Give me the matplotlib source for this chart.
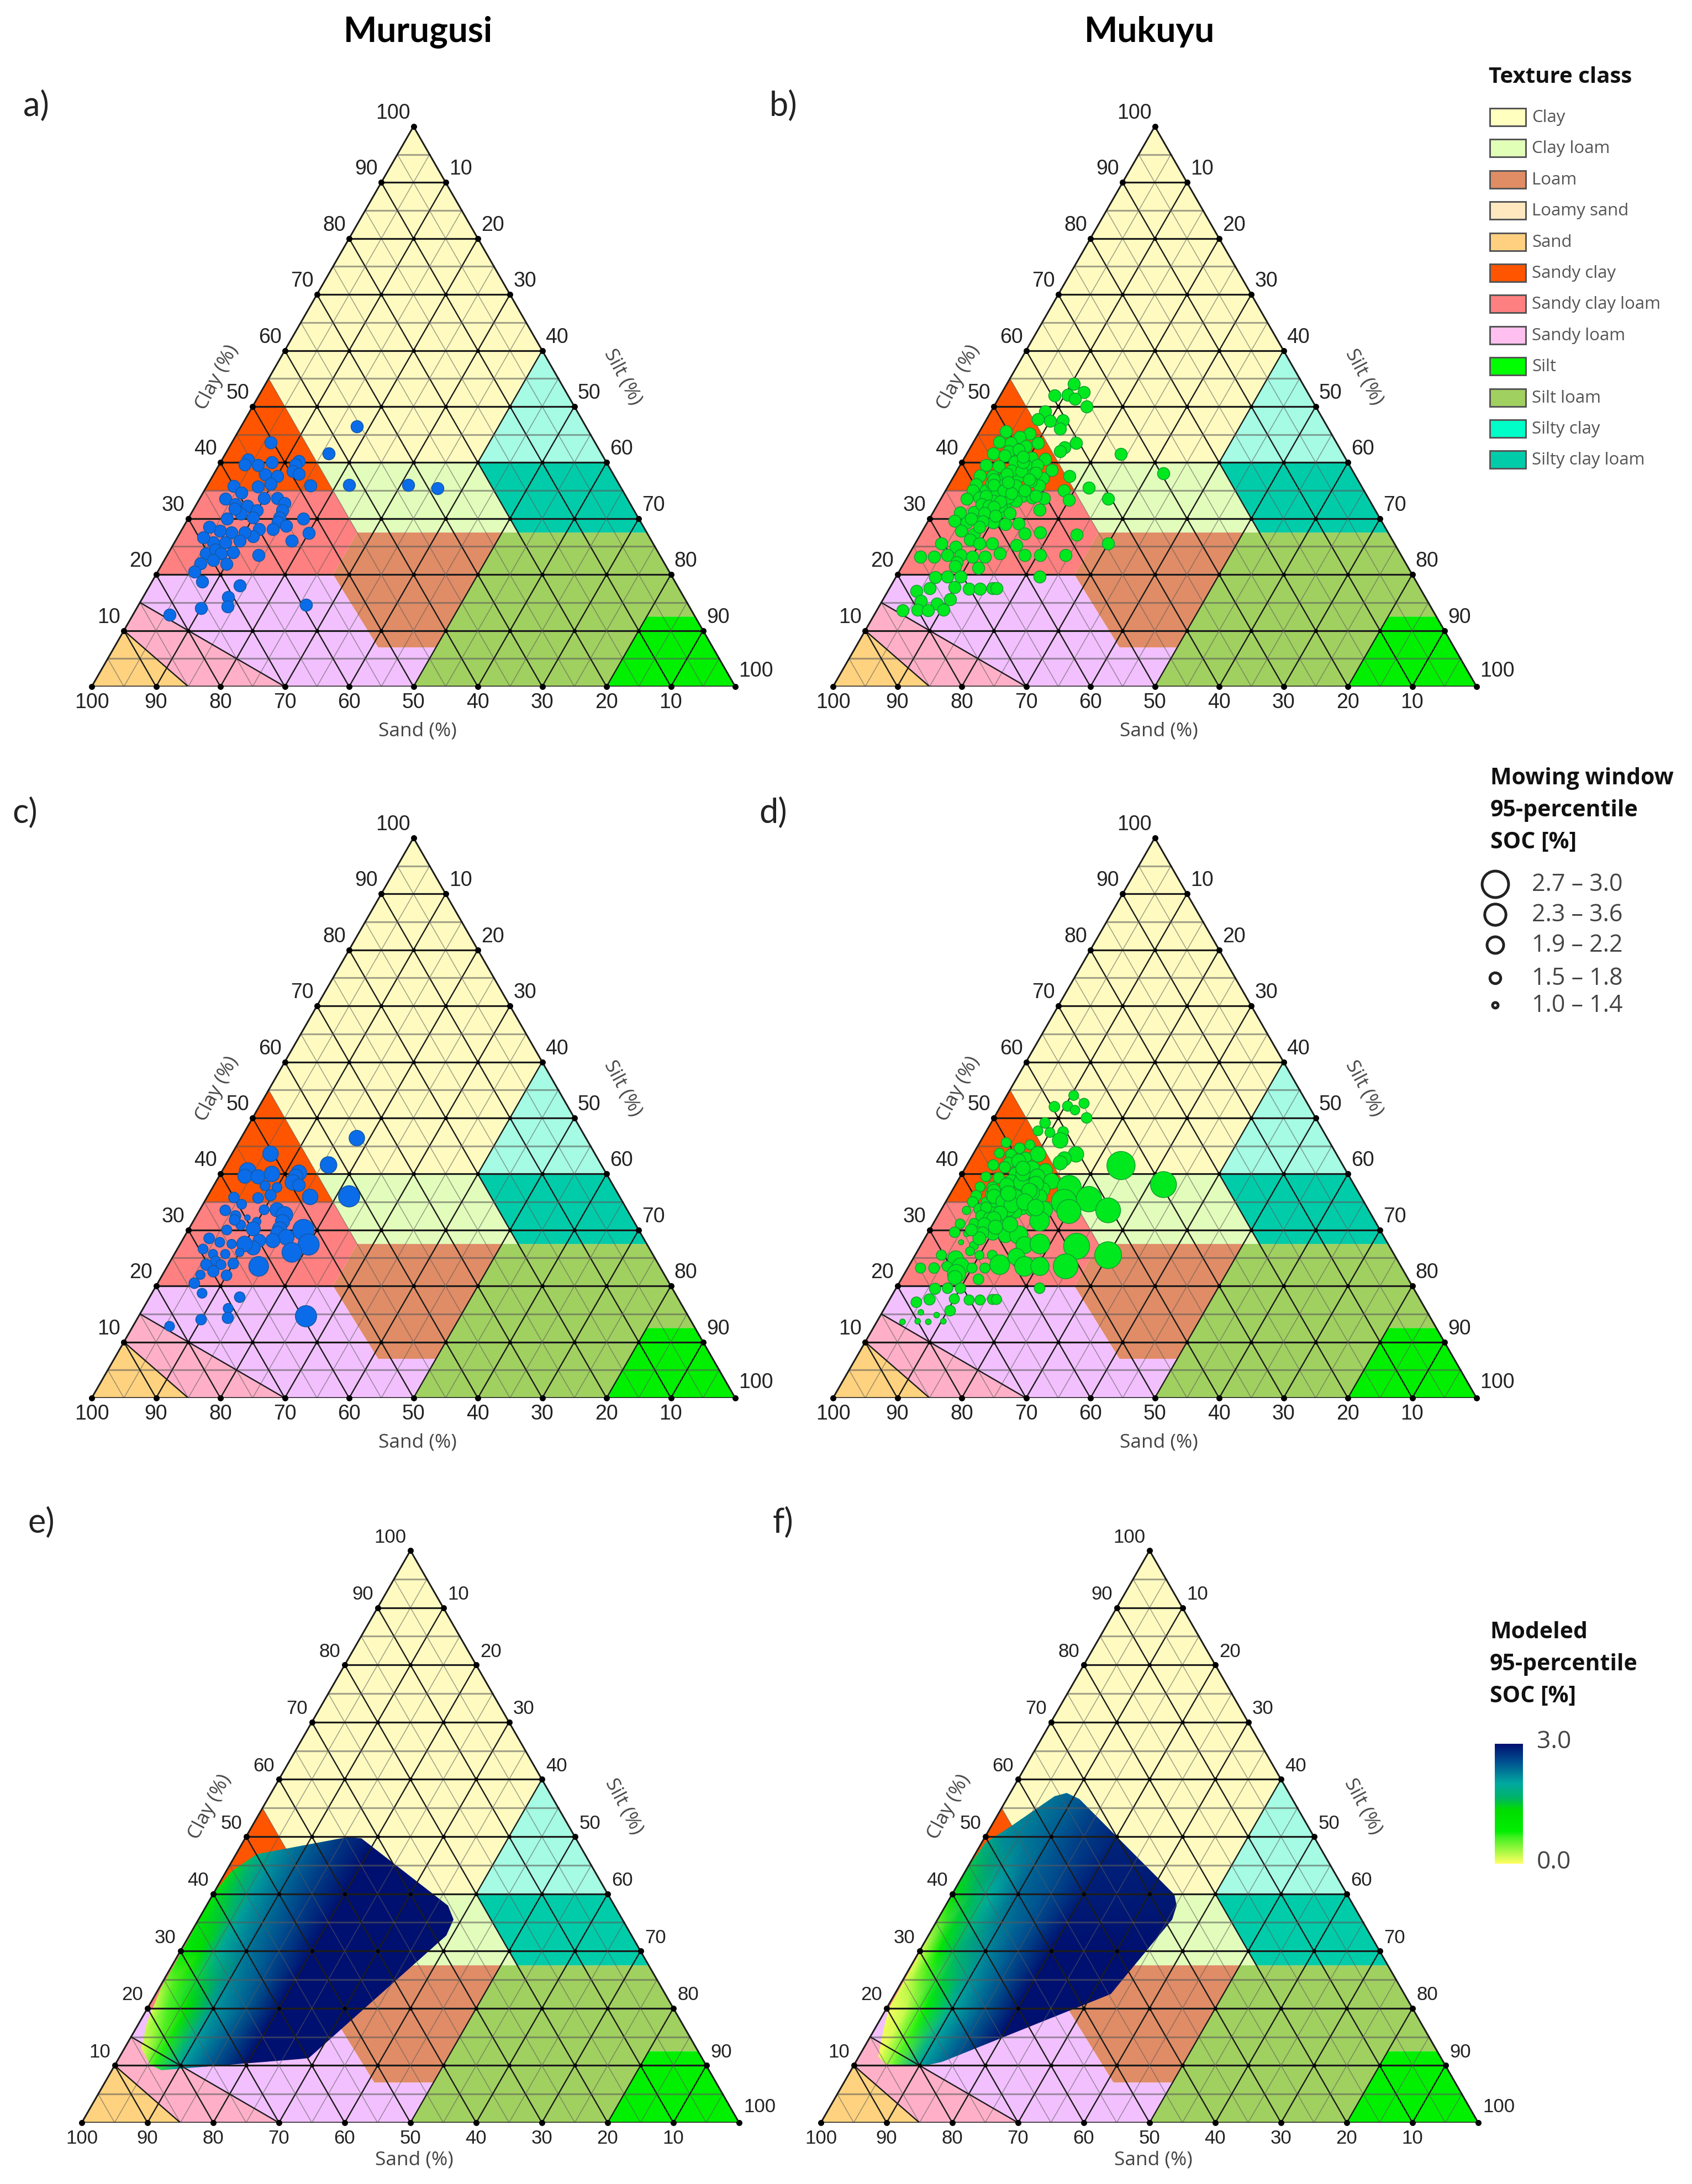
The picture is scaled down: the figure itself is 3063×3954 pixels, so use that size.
#!/usr/bin/env python3

import numpy as np
import matplotlib
matplotlib.use('Agg')
import matplotlib.pyplot as plt
from matplotlib.colors import LinearSegmentedColormap, Normalize
from matplotlib.cm import ScalarMappable
from matplotlib.patches import Polygon, Rectangle

W, H = 3063, 3955

# texture classes, polygon vertices as (clay %, silt %)
class_polys = {
    'Clay': [(100, 0), (55, 0), (40, 15), (40, 40), (60, 40)],
    'Clay loam': [(40, 15), (40, 40), (27.5, 52.5), (27.5, 27.5), (35, 20)],
    'Loam': [(27.5, 27.5), (27.5, 50), (7, 50), (7, 41), (20, 27.5)],
    'Loamy sand': [(10, 0), (15, 0), (0, 30), (0, 15)],
    'Sand': [(0, 0), (10, 0), (0, 15)],
    'Sandy clay': [(35, 0), (55, 0), (35, 20)],
    'Sandy clay loam': [(20, 0), (35, 0), (35, 20), (27.5, 27.5), (20, 27.5)],
    'Sandy loam': [(20, 0), (20, 27.5), (7, 41), (7, 50), (0, 50), (0, 30), (15, 0)],
    'Silt': [(12.5, 80), (12.5, 87.5), (0, 100), (0, 80)],
    'Silt loam': [(27.5, 50), (27.5, 72.5), (12.5, 87.5), (12.5, 80), (0, 80), (0, 50)],
    'Silty clay': [(40, 40), (40, 60), (60, 40)],
    'Silty clay loam': [(27.5, 52.5), (40, 40), (40, 60), (27.5, 72.5)],
}
class_colors = {
    'Clay': '#FFFBC0', 'Clay loam': '#E2FCBB', 'Loam': '#E08C66', 'Loamy sand': '#FFB0C8',
    'Sand': '#FFD27F', 'Sandy clay': '#FF5500', 'Sandy clay loam': '#FF8080',
    'Sandy loam': '#F2C0FF', 'Silt': '#00F000', 'Silt loam': '#A0D060',
    'Silty clay': '#A5FBE3', 'Silty clay loam': '#00CCAA',
}
legend_names = list(class_polys.keys())
legend_colors = ['#FFFFC0', '#E2FFB8', '#E08C64', '#FFE8C0', '#FFD080', '#FF5500',
                 '#FF8080', '#FFC0F0', '#00FF00', '#A0D060', '#00FFC8', '#00CCAA']

# Murugusi samples
clay_mu = [46.4, 41.6, 36.0, 36.0, 35.4, 43.6, 40.5, 39.6, 39.5, 40.0, 40.2, 39.6, 38.5, 38.0, 37.9, 37.6, 36.2,
           35.7, 35.9, 35.8, 34.6, 33.5, 32.5, 32.2, 33.6, 33.6, 32.7, 31.5, 31.5, 30.9, 30.2, 31.8, 30.0,
           30.0, 30.2, 29.4, 28.7, 28.1, 28.1, 26.8, 27.5, 27.5, 27.8, 28.5, 27.4, 26.0, 26.0, 25.7, 25.7,
           26.6, 23.8, 24.5, 24.0, 23.8, 22.6, 23.5, 21.9, 22.0, 20.5, 18.7, 18.0, 16.0, 14.3, 14.0, 14.6, 12.8]
silt_mu = [18.0, 16.0, 22.0, 31.2, 36.0, 6.0, 4.0, 4.0, 6.1, 8.0, 12.1, 11.9, 12.0, 13.2, 8.0, 10.0, 9.7,
           8.0, 16.0, 4.2, 6.0, 4.0, 6.1, 8.1, 10.0, 12.0, 13.6, 13.9, 9.9, 7.7, 10.0, 6.3, 6.0,
           17.9, 14.1, 14.2, 15.9, 12.0, 14.1, 11.7, 10.0, 8.0, 6.0, 4.0, 20.0, 18.1, 10.0, 7.9, 6.0,
           4.0, 5.9, 7.0, 10.0, 8.2, 7.6, 14.2, 10.0, 5.9, 5.7, 7.8, 14.0, 13.2, 14.0, 10.0, 26.0, 5.7]
soc_mu = [1.91, 2.0, 2.4, np.nan, np.nan, 1.91, 2.03, 1.79, 1.79, 1.91, 1.91, 1.79, 1.91, 1.66, 1.42, 1.42, 1.54,
          1.49, 1.91, 1.49, 1.42, 1.49, 1.49, 1.06, 1.42, 1.79, 2.0, 1.79, 1.3, 1.42, 1.79, 1.49, 1.42,
          2.4, 1.79, 1.79, 1.91, 1.66, 1.79, 1.79, 1.91, 1.37, 1.42, 1.49, 2.4, 2.27, 1.3, 1.37, 1.37,
          1.42, 1.54, 1.42, 1.49, 1.42, 1.54, 2.27, 1.49, 1.37, 1.49, 1.42, 1.49, 1.42, 1.54, 1.49, 2.4, 1.42]

# Mukuyu samples
clay_mk = [54.0, 52.0, 52.1, 52.6, 51.4, 50.0, 49.1, 47.7, 47.4, 47.5, 46.0, 43.5, 42.7, 42.0, 41.5, 38.1, 45.6,
           45.2, 44.6, 43.5, 43.7, 43.5, 41.6, 42.9, 42.0, 41.2, 41.6, 40.8, 40.6, 39.5, 40.1, 39.5, 39.3,
           39.5, 38.7, 37.7, 37.6, 37.4, 37.6, 38.0, 37.6, 37.2, 36.1, 35.5, 35.9, 35.9, 35.5, 35.0, 35.0,
           35.0, 34.4, 34.0, 33.7, 33.6, 33.3, 33.5, 33.5, 33.7, 33.1, 32.9, 33.1, 31.6, 31.1, 31.2, 31.4,
           31.2, 29.6, 29.3, 29.6, 29.3, 29.0, 29.1, 27.3, 27.5, 27.1, 27.8, 27.2, 26.2, 25.5, 25.5, 25.2,
           25.5, 25.5, 24.9, 23.5, 23.2, 23.2, 23.5, 23.2, 23.2, 23.8, 23.5, 23.5, 23.5, 22.2, 21.5, 21.2,
           19.6, 19.6, 19.6, 19.5, 17.6, 17.1, 17.7, 17.5, 17.5, 17.6, 17.6, 15.6, 15.3, 14.8, 13.6, 13.7,
           13.6, 13.7, 34.0, 32.5, 32.2, 36.3, 38.6, 42.3, 38.2, 32.2, 33.7, 35.9, 36.7,
           38.0, 37.0, 36.0, 35.0, 34.5, 33.0, 32.0, 31.0, 30.5, 36.5, 38.5, 37.0, 35.0, 34.0, 40.0, 41.0, 31.0,
           29.5, 28.5, 30.0]
silt_mk = [10.4, 8.4, 10.4, 12.7, 11.9, 14.4, 8.4, 8.0, 10.0, 12.0, 12.3, 16.0, 14.6, 14.3, 24.0, 32.3, 4.1,
           8.0, 6.7, 10.1, 4.0, 5.9, 4.1, 8.5, 6.3, 6.1, 8.2, 10.5, 12.7, 4.0, 8.2, 10.2, 6.1,
           12.0, 14.6, 4.0, 6.0, 8.0, 10.0, 12.1, 17.9, 14.0, 4.2, 10.1, 8.4, 14.1, 22.0, 18.4, 4.2,
           6.3, 8.2, 12.4, 14.1, 16.0, 20.0, 26.0, 4.0, 5.9, 8.4, 10.4, 11.9, 16.3, 4.2, 6.3, 8.1,
           10.3, 4.1, 6.1, 8.0, 10.2, 12.3, 14.3, 16.1, 18.4, 24.3, 6.0, 8.3, 8.2, 10.0, 12.0, 15.9,
           30.0, 4.1, 6.6, 8.1, 2.0, 4.1, 6.0, 10.0, 12.0, 14.0, 18.0, 20.4, 24.4, 8.1, 8.2, 12.0,
           22.3, 10.0, 8.0, 6.1, 6.2, 4.4, 10.0, 12.4, 14.1, 16.0, 16.6, 10.4, 6.0, 8.7, 4.0, 6.3,
           8.0, 10.3, 6.8, 6.8, 8.1, 6.5, 8.4, 7.7, 12.4, 10.0, 10.4, 10.5, 12.4,
           8.0, 6.5, 7.0, 9.0, 10.5, 9.5, 9.0, 8.0, 10.0, 9.0, 10.0, 12.0, 12.3, 14.5, 9.5, 9.0, 12.0,
           8.5, 8.5, 6.5]
soc_mk = [1.42, 1.49, 1.45, 1.45, 1.4, 1.49, 1.49, 1.42, 1.42, 1.49, 1.91, 1.91, 1.79, 1.79, 3.0, 2.81, 1.42,
          1.42, 1.49, 1.91, 1.42, 1.49, 1.49, 1.54, 1.54, 1.54, 1.66, 2.03, 1.79, 1.42, 1.54, 1.54, 1.54,
          1.91, 1.91, 1.42, 1.54, 1.54, 1.66, 1.91, 2.64, 1.79, 1.49, 1.66, 1.54, 1.91, 2.76, 2.76, 1.49,
          1.42, 1.54, 1.79, 1.79, 2.03, 2.64, 2.71, 1.3, 1.54, 1.54, 1.49, 1.54, 2.27, 1.42, 1.42, 1.42,
          1.54, 1.49, 1.06, 1.06, 1.66, 1.79, 2.15, 2.03, 2.27, 2.81, 1.01, 1.35, 1.35, 1.35, 1.42, 2.03,
          2.88, 1.45, 1.91, 2.03, 1.45, 1.49, 1.45, 1.45, 1.45, 2.27, 2.27, 2.15, 2.71, 2.15, 1.79, 1.49,
          1.49, 1.49, 1.49, 1.54, 1.54, 1.49, 1.45, 1.45, 1.45, 1.45, 1.45, 1.49, 1.06, 1.06, 1.06, 1.06,
          1.06, 1.06, 1.54, 1.54, 1.49, 1.66, 1.79, 1.79, 1.91, 1.66, 1.79, 1.79, 2.03,
          1.8, 1.7, 1.8, 1.9, 1.9, 1.8, 1.8, 1.7, 1.8, 1.9, 1.9, 1.9, 2.0, 2.0, 1.8, 1.8, 1.9,
          1.6, 1.7, 1.6]

# modeled SOC, read along lines of equal clay
model_silt = [0, 3, 6, 10, 14, 20, 60]
model_clay = [5, 10, 20, 30, 40, 50, 60]
model_mu = [[0, 0, 0.7, 2.05, 2.45, 3, 3],
            [0, 0, 0.7, 2.05, 2.45, 3, 3],
            [0, 0.6, 1.3, 2.1, 2.4, 3, 3],
            [0.9, 1.3, 1.95, 2.3, 2.55, 3, 3],
            [1.05, 1.6, 2.1, 2.4, 2.65, 3, 3],
            [1.2, 1.9, 2.2, 2.45, 2.7, 3, 3],
            [1.2, 1.9, 2.2, 2.45, 2.7, 3, 3]]
model_mk = [[0, 0, 0.5, 2.05, 2.45, 3, 3],
            [0, 0, 0.5, 2.05, 2.45, 3, 3],
            [0, 0.2, 0.8, 2.0, 2.4, 3, 3],
            [0.1, 1.0, 1.7, 2.2, 2.5, 3, 3],
            [1.1, 1.6, 2.0, 2.4, 2.55, 2.9, 3],
            [1.9, 2.2, 2.3, 2.45, 2.65, 2.85, 3],
            [1.9, 2.2, 2.3, 2.45, 2.65, 2.85, 3]]

# outline of the modeled area as (clay, silt)
region_mu = [(49.9, 15.5), (49.7, 17.7), (37.9, 36.8), (35.5, 38.8), (32.7, 39.1), (11.3, 28.9), (11.1, 27.4),
             (9.2, 7.5), (10.1, 5.4), (13, 2.6), (17.5, 1.2), (23.5, 0.3), (30, 0.3), (40.2, 0), (43.9, 0.8),
             (46.8, 3.1), (47, 3.5)]
region_mk = [(57.6, 8.6), (56.6, 11), (39.9, 33.8), (37.9, 35.2), (35.5, 35.7), (24, 33.2), (22.5, 32.9),
             (10.6, 13.1), (9.9, 10.8), (10.2, 4.7), (11.6, 2.9), (16.5, 1.3), (20, 0.3), (39.9, 0), (45.2, 0.1),
             (48.9, 0.6), (51.9, 3.1), (57.1, 7)]

soc_stops = [(0.0, '#FFFF60'), (0.22, '#40F020'), (0.27, '#00EE00'), (0.45, '#00DC00'), (0.55, '#00B468'),
             (0.67, '#00A8A0'), (0.85, '#005090'), (1.0, '#001070')]
soc_cmap = LinearSegmentedColormap.from_list('soc', soc_stops)

size_bins = ['2.7 – 3.0', '2.3 – 3.6', '1.9 – 2.2', '1.5 – 1.8', '1.0 – 1.4']
size_soc = [2.85, 2.4, 2.0, 1.5, 1.05]
ticks = list(range(10, 110, 10))


def px(v):
    return v * 0.72


def soc_size(soc):
    return (px(21 * np.asarray(soc, float) - 12)) ** 2


def tx(clay, silt):
    return np.asarray(silt, float) + np.asarray(clay, float) / 2


def draw_grid(ax):
    for v in range(5, 100, 5):
        major = v % 10 == 0
        col = '#1c1c1c' if major else '#5a5a5a'
        a = 1.0 if major else 0.55
        ax.plot([tx(v, 0), tx(v, 100 - v)], [v, v], color=col, alpha=a, lw=px(3.2), zorder=3)
        dlw = px(2.4 if major else 1.6)
        # constant silt
        ax.plot([tx(0, v), tx(100 - v, v)], [0, 100 - v], color=col, alpha=a, lw=dlw, zorder=3)
        # constant sand
        ax.plot([tx(0, 100 - v), tx(100 - v, 0)], [0, 100 - v], color=col, alpha=a, lw=dlw, zorder=3)
    ax.plot([0, 100, 50, 0], [0, 0, 100, 0], color='#1c1c1c', lw=px(3), zorder=3, solid_joinstyle='miter')
    # the two loamy sand borders stand out
    ax.plot([tx(15, 0), tx(0, 30)], [15, 0], color='#1c1c1c', lw=px(2.4), zorder=3)
    ax.plot([tx(10, 0), tx(0, 15)], [10, 0], color='#1c1c1c', lw=px(2.4), zorder=3)
    cc, ss = [], []
    for c in range(0, 101, 10):
        for s in range(0, 101 - c, 10):
            cc.append(c)
            ss.append(s)
    ax.scatter(tx(cc, ss), cc, s=px(7) ** 2, color='black', lw=0, zorder=3.5)
    ax.scatter(tx(np.array(ticks), 0), ticks, s=px(11) ** 2, color='black', lw=0, zorder=3.5, clip_on=False)
    ax.scatter(tx(0, np.array(ticks) - 10), [0] * 10, s=px(11) ** 2, color='black', lw=0, zorder=3.5, clip_on=False)
    ax.scatter(tx(100 - np.array(ticks), np.array(ticks)), 100 - np.array(ticks), s=px(11) ** 2, color='black',
               lw=0, zorder=3.5, clip_on=False)


def draw_panel(rect, tick_fs, sand_y):
    x0, base, wid = rect
    hei = wid * 0.8705
    ax = fig.add_axes([x0 / W, 1 - base / H, wid / W, hei / H])
    ax.set_xlim(0, 100)
    ax.set_ylim(0, 100)
    ax.axis('off')
    for name, verts in class_polys.items():
        xy = [(tx(c, s), c) for c, s in verts]
        ax.add_patch(Polygon(xy, closed=True, fc=class_colors[name], ec='none', zorder=1))
    draw_grid(ax)
    kw = dict(ha='center', va='center', fontsize=tick_fs, color='#222222', family='Liberation Sans',
              textcoords='offset pixels', annotation_clip=False)
    for t in ticks:
        ax.annotate(str(t), (tx(t, 0), t), xytext=(-37 if t == 100 else -27, 25), **kw)
        ax.annotate(str(t), (tx(100 - t, t), 100 - t), xytext=(37 if t == 100 else 27, 29 if t == 100 else 25), **kw)
        ax.annotate(str(t), (100 - t, 0), xytext=(0, -28), **kw)
    lab = dict(ha='center', va='center', fontsize=25.5, color='#444444', family='Open Sans', annotation_clip=False,
               rotation_mode='anchor')
    ax.annotate('Clay (%)', (19.5, 55.3), rotation=62, **lab)
    ax.annotate('Silt (%)', (82.5, 55.4), rotation=-62, **lab)
    ax.annotate('Sand (%)', (50.6, sand_y), **lab)
    return ax


def draw_model(ax, table, region):
    sg, cg = np.meshgrid(model_silt, model_clay)
    mesh = ax.pcolormesh(sg + cg / 2, cg, np.array(table), cmap=soc_cmap, vmin=0, vmax=3,
                         shading='gouraud', zorder=2)
    clip = Polygon([(tx(c, s), c) for c, s in region], closed=True, transform=ax.transData)
    mesh.set_clip_path(clip)


fig = plt.figure(figsize=(W / 100, H / 100), dpi=100)

ax_a = draw_panel((166, 1244, 1165), 27, -7.8)
ax_b = draw_panel((1508, 1244, 1165), 27, -7.8)
ax_c = draw_panel((166, 2532, 1165), 27, -7.8)
ax_d = draw_panel((1508, 2532, 1165), 27, -7.8)
ax_e = draw_panel((148, 3844, 1190), 25, -6.4)
ax_f = draw_panel((1486, 3844, 1190), 25, -6.4)

blue, blue_edge = '#0A6CE8', '#1458A8'
green, green_edge = '#00E81E', '#12A030'

ax_a.scatter(tx(clay_mu, silt_mu), clay_mu, s=px(22) ** 2, color=blue, edgecolor=blue_edge, lw=px(1.5), zorder=4)
ax_b.scatter(tx(clay_mk, silt_mk), clay_mk, s=px(22) ** 2, color=green, edgecolor=green_edge, lw=px(1.5), zorder=4)

soc_c = np.array(soc_mu)
keep = ~np.isnan(soc_c)
ax_c.scatter(tx(clay_mu, silt_mu)[keep], np.array(clay_mu)[keep], s=soc_size(soc_c[keep]), color=blue,
             edgecolor=blue_edge, lw=px(1.5), zorder=4)
ax_d.scatter(tx(clay_mk, silt_mk), clay_mk, s=soc_size(soc_mk), color=green, edgecolor=green_edge, lw=px(1.5),
             zorder=4)

draw_model(ax_e, model_mu, region_mu)
draw_model(ax_f, model_mk, region_mk)

# overlay in image pixels for headings and legends
ov = fig.add_axes([0, 0, 1, 1], zorder=10)
ov.set_xlim(0, W)
ov.set_ylim(H, 0)
ov.axis('off')
ov.patch.set_alpha(0)

ov.text(757, 58, 'Murugusi', ha='center', va='center', fontsize=46, fontweight='bold', family='Lato')
ov.text(2081, 58, 'Mukuyu', ha='center', va='center', fontsize=46, fontweight='bold', family='Lato')
for s, x, y in [('a)', 65, 192), ('b)', 1418, 192), ('c)', 45, 1472), ('d)', 1400, 1472), ('e)', 75, 2757),
                ('f)', 1418, 2757)]:
    ov.text(x, y, s, ha='center', va='center', fontsize=44, family='Lato', color='#222222')

head = dict(ha='left', va='center', fontweight='bold', family='Open Sans', color='#111111')
ov.text(2695, 140, 'Texture class', fontsize=29, **head)
for i, (name, col) in enumerate(zip(legend_names, legend_colors)):
    y = 213 + i * 56.4
    ov.add_patch(Rectangle((2697, y - 16), 65, 32, fc=col, ec='#555555', lw=px(3)))
    ov.text(2773, y, name, ha='left', va='center', fontsize=22.5, family='Open Sans', color='#555555')

for i, line in enumerate(['Mowing window', '95-percentile', 'SOC [%]']):
    ov.text(2698, 1410 + i * 58, line, fontsize=29.5, **head)
size_y = [1602, 1657, 1712, 1772, 1821]
ov.scatter([2707] * 5, size_y, s=soc_size(size_soc), fc='white', ec='#222222', lw=px(5))
for y, lab in zip(size_y, size_bins):
    ov.text(2773, y, lab, ha='left', va='center', fontsize=31, family='Open Sans', color='#444444')

for i, line in enumerate(['Modeled', '95-percentile', 'SOC [%]']):
    ov.text(2697, 2956 + i * 58, line, fontsize=29.5, **head)
cax = fig.add_axes([2706 / W, 1 - 3375 / H, 51 / W, 217 / H], zorder=11)
cb = fig.colorbar(ScalarMappable(Normalize(0, 3), soc_cmap), cax=cax)
cb.set_ticks([])
cb.outline.set_visible(False)
ov.text(2782, 3154, '3.0', ha='left', va='center', fontsize=32, family='Open Sans', color='#444444')
ov.text(2782, 3372, '0.0', ha='left', va='center', fontsize=32, family='Open Sans', color='#444444')

fig.savefig('out.png', dpi=100, facecolor='white')
